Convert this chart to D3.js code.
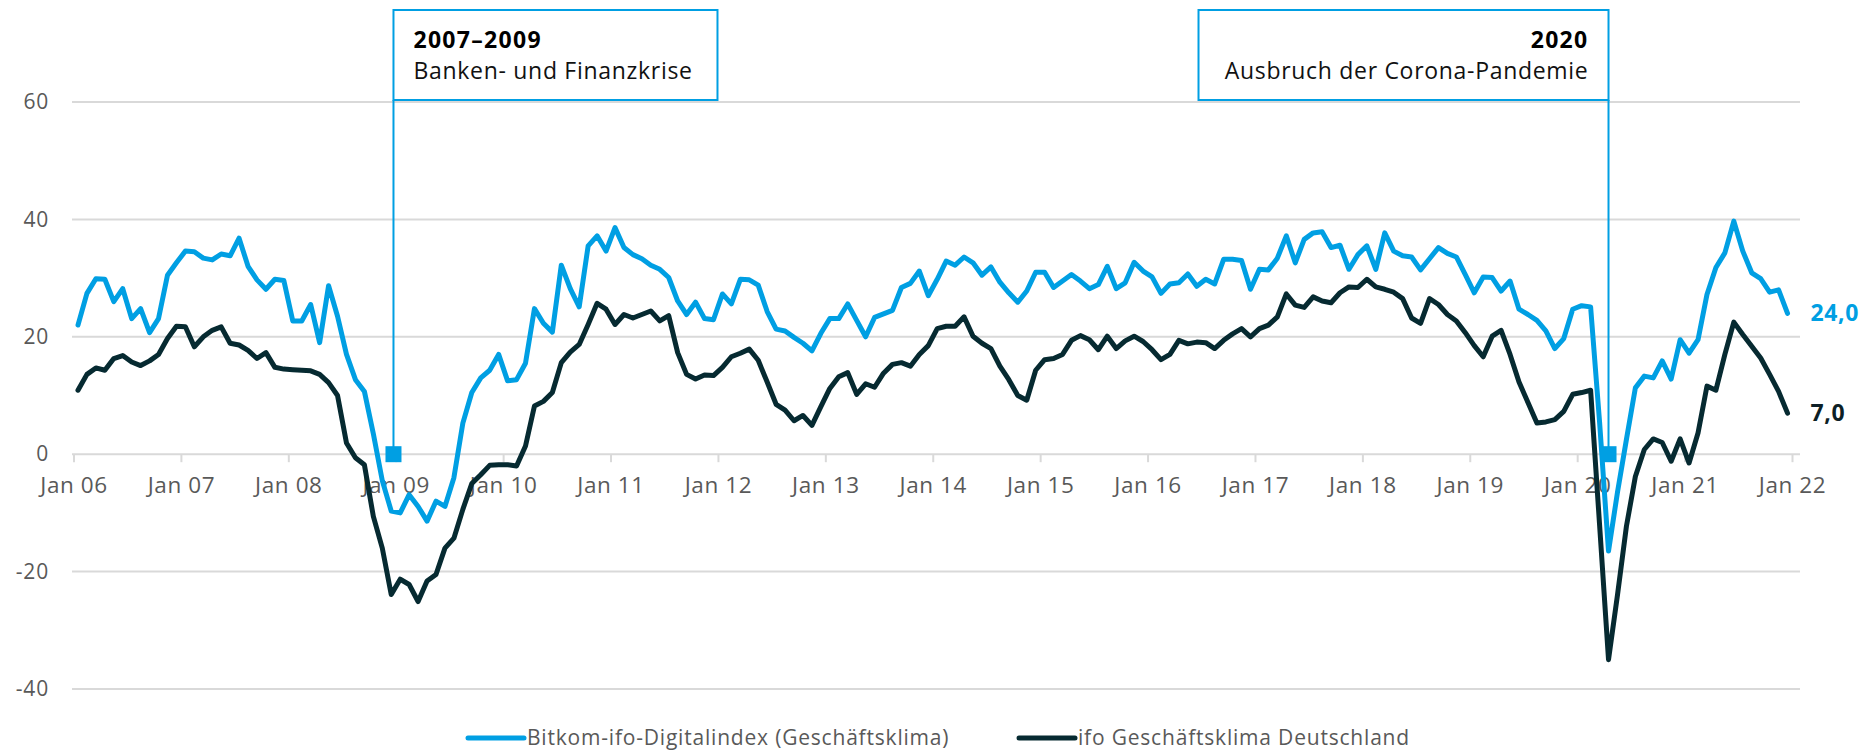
<!DOCTYPE html>
<html><head><meta charset="utf-8">
<script src="https://cdn.jsdelivr.net/npm/d3@7"></script>
<style>
body{margin:0;background:#fff}
svg{display:block}
text{font-family:'Open Sans',sans-serif}
</style>
</head><body>
<svg id="chart" width="1864" height="751"></svg>
<script>
// ---- data ----
const xTickLabels = ["Jan 06","Jan 07","Jan 08","Jan 09","Jan 10","Jan 11","Jan 12","Jan 13","Jan 14","Jan 15","Jan 16","Jan 17","Jan 18","Jan 19","Jan 20","Jan 21","Jan 22"];
const yTicks = [-40,-20,0,20,40,60];
const yTickLabels = ["-40","-20","0","20","40","60"];
const seriesNames = ["Bitkom-ifo-Digitalindex (Geschäftsklima)","ifo Geschäftsklima Deutschland"];
const seriesColors = ["#009fe3","#062a31"];
const endLabels = ["24,0","7,0"];
// monthly values Jan 2006 .. Dec 2021
const bitkom = [
 22.0,27.4,29.9,29.8,26.0,28.2,23.1,24.8,20.7,23.1,30.5,32.6,
 34.6,34.5,33.4,33.1,34.1,33.8,36.8,32.0,29.7,28.1,29.8,29.6,
 22.7,22.7,25.5,19.0,28.7,23.5,17.0,12.7,10.7,3.5,-4.5,-9.7,
 -10.0,-6.9,-8.9,-11.4,-8.0,-8.9,-4.0,5.3,10.5,13.0,14.3,17.0,
 12.5,12.7,15.5,24.8,22.3,20.8,32.2,28.2,25.1,35.5,37.2,34.6,
 38.6,35.2,34.0,33.3,32.2,31.5,30.1,26.1,23.8,25.9,23.1,22.9,
 27.3,25.6,29.8,29.7,28.8,24.3,21.3,21.0,19.9,18.9,17.6,20.6,
 23.1,23.1,25.6,22.8,20.0,23.3,23.9,24.5,28.4,29.1,31.2,27.0,
 29.8,32.9,32.2,33.6,32.6,30.5,31.9,29.3,27.5,25.9,27.8,31.0,
 31.0,28.4,29.5,30.6,29.5,28.2,28.9,32.0,28.2,29.2,32.7,31.2,
 30.2,27.4,29.0,29.2,30.7,28.6,29.8,29.0,33.2,33.2,33.0,28.1,
 31.5,31.4,33.4,37.2,32.6,36.6,37.7,37.9,35.2,35.6,31.5,34.0,
 35.5,31.5,37.7,34.6,33.8,33.6,31.4,33.3,35.2,34.2,33.6,30.6,
 27.5,30.2,30.1,27.8,29.5,24.7,23.8,22.8,21.0,18.0,19.7,24.7,
 25.3,25.1,5.5,-16.5,-6.5,2.5,11.3,13.3,13.0,15.9,12.8,19.5,
 17.2,19.5,27.2,31.8,34.3,39.7,34.6,30.9,29.9,27.6,28.0,24.0
];
const ifo = [
 10.9,13.6,14.7,14.3,16.3,16.8,15.7,15.1,15.9,17.0,19.7,21.8,
 21.7,18.3,20.0,21.1,21.7,18.9,18.6,17.7,16.3,17.3,14.8,14.5,
 14.4,14.3,14.2,13.6,12.2,10.0,1.9,-0.6,-1.8,-10.6,-16.0,-23.9,
 -21.3,-22.2,-25.1,-21.6,-20.5,-16.0,-14.3,-9.4,-5.0,-3.5,-1.9,-1.8,
 -1.8,-2.0,1.4,8.2,9.0,10.5,15.6,17.4,18.7,22.1,25.7,24.7,
 22.1,23.8,23.2,23.8,24.4,22.7,23.6,17.3,13.6,12.8,13.5,13.4,
 14.8,16.6,17.2,17.9,16.0,12.3,8.5,7.5,5.7,6.6,4.9,8.1,
 11.2,13.2,13.9,10.2,12.0,11.4,13.8,15.3,15.6,15.0,17.0,18.5,
 21.4,21.8,21.8,23.4,20.1,18.9,18.0,15.0,12.7,10.0,9.2,14.3,
 16.1,16.3,17.0,19.4,20.2,19.5,17.8,20.1,18.0,19.3,20.1,19.2,
 17.8,16.1,17.0,19.4,18.8,19.1,19.0,18.0,19.4,20.5,21.4,20.0,
 21.4,22.0,23.4,27.3,25.4,25.0,26.8,26.1,25.8,27.5,28.5,28.4,
 29.8,28.5,28.1,27.6,26.5,23.2,22.3,26.5,25.5,23.8,22.7,20.7,
 18.5,16.6,20.1,21.1,17.0,12.3,8.8,5.3,5.5,5.9,7.3,10.2,
 10.5,10.9,-12.0,-35.0,-24.0,-12.3,-3.8,0.8,2.6,2.0,-1.2,2.6,
 -1.5,3.6,11.6,10.9,17.0,22.5,20.4,18.4,16.4,13.6,10.7,7.0
];
// events: month position (months after Jan 2006), title, text, side
const eventMonths = [35.75, 171.5];
const eventTitles = ["2007–2009","2020"];
const eventTexts = ["Banken- und Finanzkrise","Ausbruch der Corona-Pandemie"];
const eventSides = ["left","right"];

// ---- drawing ----
const svg = d3.select("#chart");
const nMonths = xTickLabels.length*12 - 12;
const x = d3.scaleLinear().domain([0, nMonths]).range([73.5, 1792]);
const y = d3.scaleLinear().domain([-40, 60]).range([689, 102]);
const grey = "#595959";

// gridlines
svg.append("g").selectAll("line").data(yTicks).join("line")
  .attr("x1", x(0) - 1.5).attr("x2", x(nMonths) + 8)
  .attr("y1", d => y(d)).attr("y2", d => y(d))
  .attr("stroke", "#d9d9d9").attr("stroke-width", 2);

// y axis labels
const yAxis = svg.append("g").attr("transform", "translate(49,0)")
  .call(d3.axisLeft(y).tickValues(yTicks).tickFormat((d, i) => yTickLabels[i])
    .tickSize(0).tickPadding(0));
yAxis.select(".domain").remove();
yAxis.selectAll("text").attr("fill", grey).style("font-size", "21px")
  .style("letter-spacing", "0.8px")
  .style("font-family", "'Open Sans',sans-serif");

// x axis
const xAxis = svg.append("g").attr("transform", `translate(0,${y(0)})`)
  .call(d3.axisBottom(x).tickValues(d3.range(0, nMonths + 1, 12))
    .tickFormat((d, i) => xTickLabels[i]).tickSize(8));
xAxis.select(".domain").remove();
xAxis.selectAll("line").attr("stroke", "#d9d9d9").attr("stroke-width", 2);
xAxis.selectAll("text").attr("fill", grey).attr("dy", null).attr("y", 39)
  .style("font-size", "22.5px").style("letter-spacing", "0.6px")
  .style("font-family", "'Open Sans',sans-serif");

// event annotations
const boxTop = 10, boxBottom = 100, boxW = [324, 410];
eventMonths.forEach((m, k) => {
  const px = x(m);
  const left = eventSides[k] === "left" ? px : px - boxW[k];
  const right = left + boxW[k];
  svg.append("rect").attr("x", left).attr("y", boxTop)
    .attr("width", boxW[k]).attr("height", boxBottom - boxTop)
    .attr("fill", "#fff").attr("stroke", seriesColors[0]).attr("stroke-width", 2);
  svg.append("line").attr("x1", px).attr("x2", px).attr("y1", boxBottom).attr("y2", y(0))
    .attr("stroke", seriesColors[0]).attr("stroke-width", 2);
  const tx = eventSides[k] === "left" ? left + 20 : right - 20;
  const anchor = eventSides[k] === "left" ? "start" : "end";
  svg.append("text").attr("x", tx).attr("y", 48).attr("text-anchor", anchor)
    .attr("font-weight", "bold").style("font-size", "23px").style("letter-spacing", "1.3px")
    .attr("fill", "#000").text(eventTitles[k]);
  svg.append("text").attr("x", tx).attr("y", 79).attr("text-anchor", anchor)
    .style("font-size", "23px").style("letter-spacing", "0.7px").attr("fill", "#111")
    .text(eventTexts[k]);
});

// lines
const series = [bitkom, ifo];
const line = d3.line().x((d, i) => x(i + 0.5)).y(d => y(d));
series.forEach((s, k) => {
  svg.append("path").datum(s).attr("d", line)
    .attr("fill", "none").attr("stroke", seriesColors[k])
    .attr("stroke-width", 5).attr("stroke-linejoin", "round").attr("stroke-linecap", "round");
});

// markers on top
svg.append("g").selectAll("rect").data(eventMonths).join("rect")
  .attr("x", d => x(d) - 8).attr("y", y(0) - 8).attr("width", 16).attr("height", 16)
  .attr("fill", seriesColors[0]);

// end labels
series.forEach((s, k) => {
  svg.append("text").attr("x", x(s.length - 0.5) + 23).attr("y", y(s[s.length - 1]))
    .attr("dy", "0.35em").attr("font-weight", "bold").style("font-size", "23px")
    .style("letter-spacing", "0.6px")
    .attr("fill", k === 0 ? seriesColors[0] : "#0d1f26").text(endLabels[k]);
});

// legend
const legendX = [468, 1019];
seriesNames.forEach((n, k) => {
  svg.append("line").attr("x1", legendX[k]).attr("x2", legendX[k] + 56)
    .attr("y1", 738).attr("y2", 738).attr("stroke", seriesColors[k]).attr("stroke-width", 5)
    .attr("stroke-linecap", "round");
  svg.append("text").attr("x", legendX[k] + 59).attr("y", 738).attr("dy", "0.35em")
    .style("font-size", "21px").style("letter-spacing", "0.8px").attr("fill", grey).text(n);
});
</script>
</body></html>
